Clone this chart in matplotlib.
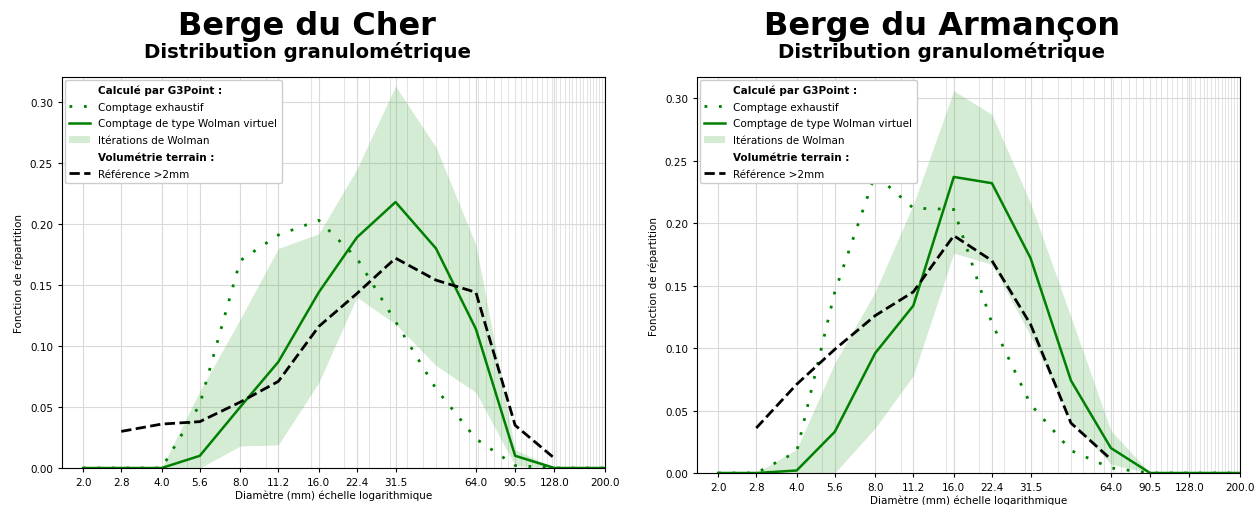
import numpy as np
import matplotlib as mpl
mpl.use('Agg')
import matplotlib.pyplot as plt
from matplotlib.lines import Line2D
from matplotlib.patches import Patch

# sieve sizes (mm)
sizes = [2.0, 2.8, 4.0, 5.6, 8.0, 11.2, 16.0, 22.4, 31.5, 45.0, 64.0, 90.5, 128.0, 181.0, 256.0]
tick_sizes = [2.0, 2.8, 4.0, 5.6, 8.0, 11.2, 16.0, 22.4, 31.5, 64.0, 90.5, 128.0, 200.0]

# Berge du Cher
cher_exhaustif = [0, 0, 0, 0.052, 0.170, 0.191, 0.203, 0.172, 0.120, 0.065, 0.024, 0.002, 0, 0, 0]
cher_wolman = [0, 0, 0, 0.010, 0.050, 0.087, 0.144, 0.189, 0.218, 0.180, 0.114, 0.010, 0, 0, 0]
cher_low = [0, 0, 0, 0, 0.018, 0.019, 0.070, 0.140, 0.118, 0.084, 0.062, 0.002, 0, 0, 0]
cher_high = [0, 0, 0, 0.063, 0.122, 0.180, 0.192, 0.245, 0.313, 0.263, 0.183, 0.015, 0, 0, 0]
cher_ref_x = [2.8, 4.0, 5.6, 8.0, 11.2, 16.0, 22.4, 31.5, 45.0, 64.0, 90.5, 128.0]
cher_ref = [0.030, 0.036, 0.038, 0.054, 0.071, 0.116, 0.143, 0.172, 0.154, 0.144, 0.035, 0.008]

# Berge du Armançon
arm_exhaustif = [0, 0, 0.017, 0.145, 0.239, 0.212, 0.211, 0.120, 0.055, 0.018, 0.004, 0, 0, 0, 0]
arm_wolman = [0, 0, 0.002, 0.033, 0.096, 0.134, 0.237, 0.232, 0.172, 0.074, 0.020, 0, 0, 0, 0]
arm_low = [0, 0, 0, 0, 0.036, 0.078, 0.176, 0.167, 0.110, 0.042, 0.007, 0, 0, 0, 0]
arm_high = [0, 0, 0.019, 0.088, 0.145, 0.215, 0.306, 0.287, 0.216, 0.125, 0.034, 0, 0, 0, 0]
arm_ref_x = [2.8, 4.0, 5.6, 8.0, 11.2, 16.0, 22.4, 31.5, 45.0, 64.0]
arm_ref = [0.036, 0.071, 0.099, 0.126, 0.145, 0.190, 0.170, 0.119, 0.040, 0.011]

dots = (0, (1, 4.2))


def drawPanel(ax, exh, wol, low, high, refx, ref, ymax):
  ax.fill_between(sizes, low, high, color='tab:green', alpha=0.2, lw=0)
  ax.plot(sizes, exh, color='green', lw=2, linestyle=dots)
  ax.plot(sizes, wol, color='green', lw=1.8)
  ax.plot(refx, ref, color='k', lw=2, linestyle='--')
  ax.set_xscale('log')
  ax.set_xlim(1.66, 200)
  ax.set_ylim(0, ymax)
  ax.set_xticks(tick_sizes)
  ax.set_xticklabels(['%.1f' % t for t in tick_sizes])
  ax.set_xticks(np.arange(5, 201, 5), minor=True)
  ax.tick_params(axis='x', which='minor', length=0, labelbottom=False)
  ax.set_yticks(np.arange(0, 0.31, 0.05))
  ax.set_yticklabels(['%.2f' % t for t in np.arange(0, 0.31, 0.05)])
  ax.tick_params(labelsize=7.5, length=3)
  ax.grid(True, which='major', color='#d9d9d9', lw=0.8)
  ax.grid(True, which='minor', axis='x', color='#e3e3e3', lw=0.7)
  ax.set_axisbelow(True)
  ax.set_xlabel("Diamètre (mm) échelle logarithmique", fontsize=7.5, labelpad=2)
  ax.set_ylabel("Fonction de répartition", fontsize=7.5)

  handles = [Line2D([], [], linestyle='none'),
             Line2D([], [], color='green', lw=2, linestyle=dots),
             Line2D([], [], color='green', lw=1.8),
             Patch(facecolor='tab:green', alpha=0.2, lw=0),
             Line2D([], [], linestyle='none'),
             Line2D([], [], color='k', lw=2, linestyle='--')]
  labels = ["Calculé par G3Point :", "Comptage exhaustif",
            "Comptage de type Wolman virtuel", "Itérations de Wolman",
            "Volumétrie terrain :", "Référence >2mm"]
  leg = ax.legend(handles, labels, loc='upper left', fontsize=7.5, framealpha=1,
                  labelspacing=0.65, borderaxespad=0.3)
  for i in (0, 4):
    leg.get_texts()[i].set_fontweight('bold')


fig = plt.figure(figsize=(12.6, 5.06), dpi=100)

ax = fig.add_axes([62/1260., 1 - 469/506., 543/1260., 391/506.])
drawPanel(ax, cher_exhaustif, cher_wolman, cher_low, cher_high, cher_ref_x, cher_ref, 0.3205)

ax = fig.add_axes([697/1260., 1 - 474/506., 543/1260., 396/506.])
drawPanel(ax, arm_exhaustif, arm_wolman, arm_low, arm_high, arm_ref_x, arm_ref, 0.317)

fig.text(307/1260., 1 - 35/506., "Berge du Cher", ha='center', va='baseline', fontsize=23, fontweight='bold')
fig.text(307/1260., 1 - 58/506., "Distribution granulométrique", ha='center', va='baseline', fontsize=14.2, fontweight='bold')
fig.text(942/1260., 1 - 35/506., "Berge du Armançon", ha='center', va='baseline', fontsize=23, fontweight='bold')
fig.text(942/1260., 1 - 58/506., "Distribution granulométrique", ha='center', va='baseline', fontsize=14.2, fontweight='bold')

plt.savefig('out.png', dpi=100)
